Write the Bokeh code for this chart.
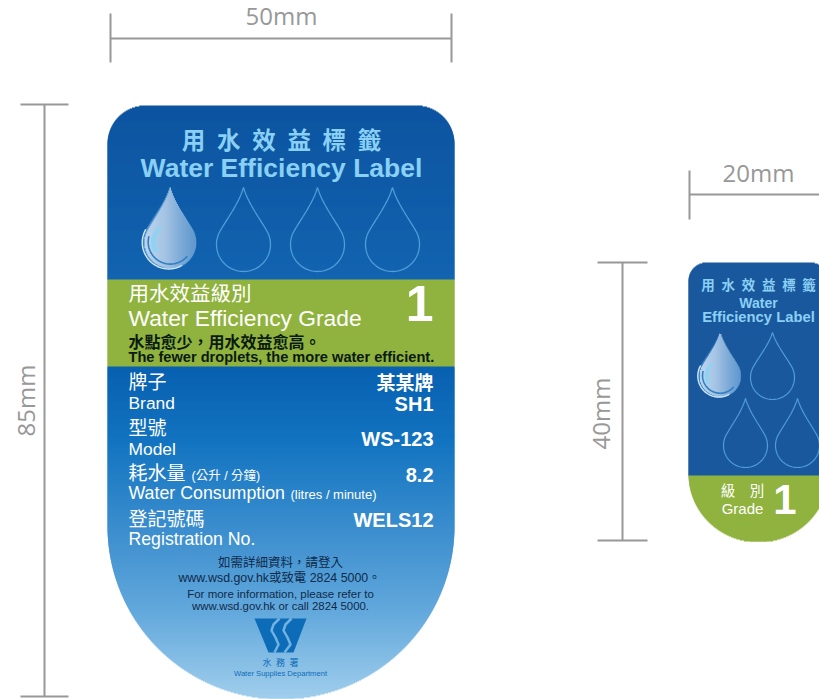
import math
from bokeh.plotting import figure
from bokeh.embed import file_html
from bokeh.resources import INLINE
from bokeh.core.properties import value

# ---- texts ----
dim_labels = ["50mm", "85mm", "20mm", "40mm"]
big_title = ["用\u2002水\u2002效\u2002益\u2002標\u2002籤", "Water Efficiency Label"]
big_grade = ["用水效益級別", "Water Efficiency Grade", "1"]
big_note = ["水點愈少，用水效益愈高。", "The fewer droplets, the more water efficient."]
field_zh = ["牌子", "型號", "耗水量", "登記號碼"]
field_en = ["Brand", "Model", "Water Consumption", "Registration No."]
field_val = ["某某牌", "SH1", "WS-123", "8.2", "WELS12"]
units = ["(公升 / 分鐘)", "(litres / minute)"]
contact = ["如需詳細資料，請登入", "www.wsd.gov.hk或致電 2824 5000。",
           "For more information, please refer to", "www.wsd.gov.hk or call 2824 5000."]
dept = ["水\u2002務\u2002署", "Water Supplies Department"]
small_title = ["用\u2002水\u2002效\u2002益\u2002標\u2002籤", "Water", "Efficiency Label"]
small_grade = ["級\u3000別", "Grade", "1"]

CJK = "Liberation Sans, Noto Sans CJK TC"
GREY = "#989898"

p = figure(width=819, height=699, x_range=(0, 819), y_range=(699, 0),
           output_backend="svg", toolbar_location=None,
           x_axis_type=None, y_axis_type=None, min_border=0)
p.grid.visible = False
p.outline_line_color = None
p.background_fill_color = "white"
p.border_fill_color = "white"


def T(s, x, y, size, color="white", bold=False, align="left", angle=0.0, font=CJK):
    p.text([x], [y], text=[s], text_font=value(font), text_font_size=f"{size}px",
           text_color=color, text_align=align, text_baseline="middle", angle=angle,
           text_font_style="bold" if bold else "normal")


def lerp_color(stops, y):
    for (y0, c0), (y1, c1) in zip(stops, stops[1:]):
        if y <= y1:
            t = max(0.0, (y - y0) / (y1 - y0))
            return "#%02x%02x%02x" % tuple(round(a + (b - a) * t) for a, b in zip(c0, c1))
    return "#%02x%02x%02x" % stops[-1][1]


def half_width(y, top, r, cy, rx, ry, w2):
    if y < top + r:
        return w2 - r + math.sqrt(max(0, r * r - (top + r - y) ** 2))
    if y <= cy:
        return w2
    return rx * math.sqrt(max(0, 1 - ((y - cy) / ry) ** 2))


def label_rows(cx, w2, top, bottom, r, cy, rx, ry, stops):
    ys = list(range(top, bottom))
    hw = [half_width(y + 0.5, top, r, cy, rx, ry, w2) for y in ys]
    p.quad(left=[cx - h for h in hw], right=[cx + h for h in hw],
           top=ys, bottom=[min(y + 2, bottom) for y in ys],
           fill_color=[lerp_color(stops, y) for y in ys], fill_alpha=1.0, line_color=None)


def drop_outline(cx, tip, bottom, r):
    cy = bottom - r
    a = math.radians(30)
    px, py = r * math.cos(a), cy - r * math.sin(a)
    L = 0.33 * math.hypot(px, py - tip)
    p1 = (0.2 * px, tip + 0.36 * (py - tip))
    p2 = (px - L * math.sin(a), py - L * math.cos(a))
    right = []
    for i in range(21):
        t = i / 20
        u = 1 - t
        right.append((3 * u * u * t * p1[0] + 3 * u * t * t * p2[0] + t ** 3 * px,
                      u ** 3 * tip + 3 * u * u * t * p1[1] + 3 * u * t * t * p2[1] + t ** 3 * py))
    for i in range(1, 41):
        ang = -a + (math.pi / 2 + a) * i / 40
        right.append((r * math.cos(ang), cy + r * math.sin(ang)))
    xs = [cx + x for x, _ in right] + [cx - x for x, _ in reversed(right[:-1])]
    ys = [y for _, y in right] + [y for _, y in reversed(right[:-1])]
    return xs, ys


def filled_drop(cx, tip, bottom, r):
    xs, ys = drop_outline(cx, tip, bottom, r)
    p.patch(xs, ys, fill_color="#3f88c8", fill_alpha=1.0, line_color=None)
    xi, yi = drop_outline(cx, tip, bottom - 0.05 * r, 0.95 * r)
    n = len(xi)
    cols = [(190, 214, 238), (165, 196, 228), (125, 170, 214), (92, 150, 206)]
    stops = list(zip([cx - r, cx - 0.2 * r, cx + 0.4 * r, cx + r], cols))
    x = cx - r
    lefts, tops, bots, colors = [], [], [], []
    while x < cx + r:
        hits = []
        for i in range(n):
            x0, y0, x1, y1 = xi[i], yi[i], xi[(i + 1) % n], yi[(i + 1) % n]
            if (x0 - x) * (x1 - x) <= 0 and x0 != x1:
                hits.append(y0 + (y1 - y0) * (x - x0) / (x1 - x0))
        if len(hits) >= 2:
            lefts.append(x); tops.append(min(hits)); bots.append(max(hits))
            colors.append(lerp_color(stops, x))
        x += 1
    p.quad(left=lefts, right=[v + 1.5 for v in lefts], top=tops, bottom=bots,
           fill_color=colors, fill_alpha=1.0, line_color=None)
    cy = bottom - r
    ang2 = [math.radians(a) for a in range(40, 200, 5)]
    p.line([cx + 0.03 * r + 0.82 * r * math.cos(t) for t in ang2],
           [cy - 0.02 * r + 0.82 * r * math.sin(t) for t in ang2], line_color="#2f7fc4", line_width=1.6)
    ang = [math.radians(a) for a in range(60, 215, 5)]
    p.line([cx - 0.03 * r + 0.98 * r * math.cos(t) for t in ang],
           [cy + 0.98 * r * math.sin(t) for t in ang], line_color="#cfe6f6", line_width=1.4)
    ang3 = [math.radians(a) for a in range(150, 235, 5)]
    xh = [cx + 0.06 * r + 0.74 * r * math.cos(t) for t in ang3]
    yh = [cy - 0.02 * r + 0.74 * r * math.sin(t) for t in ang3]
    xh2 = [cx + 0.24 * r + 0.74 * r * math.cos(t) for t in reversed(ang3)]
    yh2 = [cy - 0.02 * r + 0.74 * r * math.sin(t) for t in reversed(ang3)]
    p.patch(xh + xh2, yh + yh2, fill_color="#8fd3f3", fill_alpha=1.0, line_color=None)


def outline_drop(cx, tip, bottom, r, width=1.3):
    xs, ys = drop_outline(cx, tip, bottom, r)
    p.line(xs + xs[:1], ys + ys[:1], line_color="#4f9cd8", line_width=width)


def hdim(x0, x1, y, t0, t1, ends=(True, True)):
    p.line([x0, x1], [y, y], line_color=GREY, line_width=2)
    for x, e in zip((x0, x1), ends):
        if e:
            p.line([x, x], [t0, t1], line_color=GREY, line_width=2)


def vdim(x, y0, y1, t0, t1):
    p.line([x, x], [y0, y1], line_color=GREY, line_width=2)
    for y in (y0, y1):
        p.line([t0, t1], [y, y], line_color=GREY, line_width=2)


hdim(110, 451, 38, 13, 62)
hdim(689, 819, 194, 170, 219, ends=(True, False))
vdim(44, 104, 696, 20, 68)
vdim(622, 262, 540, 597, 647)
T(dim_labels[0], 281, 15, 24, GREY, align="center", font="Open Sans")
T(dim_labels[1], 25, 400, 24, GREY, align="center", angle=math.pi / 2, font="Open Sans")
T(dim_labels[2], 758, 172, 24, GREY, align="center", font="Open Sans")
T(dim_labels[3], 600, 413, 24, GREY, align="center", angle=math.pi / 2, font="Open Sans")

big_stops = [(105, (12, 84, 160)), (278, (18, 100, 176)), (278.01, (143, 179, 63)),
             (365, (143, 179, 63)), (365.01, (8, 96, 176)), (440, (18, 116, 192)),
             (530, (60, 142, 206)), (610, (98, 168, 220)), (698, (160, 206, 236))]
label_rows(280.5, 173.5, 105, 698, 38, 525, 173.5, 173, big_stops)

T(big_title[0], 281, 140, 23.5, "#8ad0f4", True, "center")
T(big_title[1], 281, 167, 26.5, "#8ad0f4", True, "center")

filled_drop(169, 187, 269, 27)
outline_drop(243, 187, 271, 27)
outline_drop(317, 187, 271, 27)
outline_drop(392, 187, 271, 27)

T(big_grade[0], 128, 293, 20.5)
T(big_grade[1], 128, 317, 22.8)
T(big_grade[2], 433, 303, 50, bold=True, align="right")
T(big_note[0], 128, 342, 16, "#0b1a10", True)
T(big_note[1], 128, 356, 14.6, "#0b1a10", True)

T(field_zh[0], 128, 382, 19)
T(field_en[0], 128, 402, 17.4)
T(field_zh[1], 128, 428, 19)
T(field_en[1], 128, 448, 17.4)
T(field_zh[2], 128, 473, 19)
T(units[0], 191, 475, 12.5)
T(field_en[2], 128, 492, 17.8)
T(units[1], 290, 494, 13)
T(field_zh[3], 128, 519, 19)
T(field_en[3], 128, 538, 17.7)

T(field_val[0], 433, 383, 19, bold=True, align="right")
T(field_val[1], 433, 403, 20, bold=True, align="right")
T(field_val[2], 433, 438, 20, bold=True, align="right")
T(field_val[3], 433, 474, 20, bold=True, align="right")
T(field_val[4], 433, 519, 20, bold=True, align="right")

NAVY = "#102a4a"
T(contact[0], 280, 562, 12.5, NAVY, False, "center")
T(contact[1], 279, 577, 12.4, NAVY, False, "center")
T(contact[2], 280, 593, 11.5, NAVY, False, "center")
T(contact[3], 280, 605, 11.4, NAVY, False, "center")

p.patch([254, 306, 293, 268], [618, 618, 652, 652], fill_color="#0d6cb8", fill_alpha=1.0, line_color=None)
wave_x = [[279, 273, 271, 275, 278, 274], [291, 285, 283, 287, 290, 284]]
wave_y = [[618, 624, 630, 637, 644, 652], [618, 624, 630, 637, 644, 652]]
p.multi_line(wave_x, wave_y, line_color="#72b2e0", line_width=2.5, line_join="round")
T(dept[0], 280, 662, 9, "#0d6cb8", False, "center")
T(dept[1], 280, 673, 7.6, "#0d6cb8", False, "center")

small_stops = [(262, (26, 88, 158)), (474, (26, 88, 158)), (474.01, (143, 179, 63)), (541, (143, 179, 63))]
label_rows(758, 70, 262, 541, 18, 473, 70, 68, small_stops)
T(small_title[0], 758, 285, 13.5, "#8ad0f4", True, "center")
T(small_title[1], 758, 302, 14, "#8ad0f4", True, "center")
T(small_title[2], 758, 316, 14.8, "#8ad0f4", True, "center")

filled_drop(719, 332, 397, 21.5)
outline_drop(772, 332, 399, 22, 1.2)
outline_drop(745, 398, 467, 22, 1.2)
outline_drop(797, 398, 467, 22, 1.2)

T(small_grade[0], 742, 490, 14.5, align="center")
T(small_grade[1], 742, 508, 15, align="center")
T(small_grade[2], 796, 499, 42, bold=True, align="right")

open("out.html", "w").write(file_html(p, INLINE))
